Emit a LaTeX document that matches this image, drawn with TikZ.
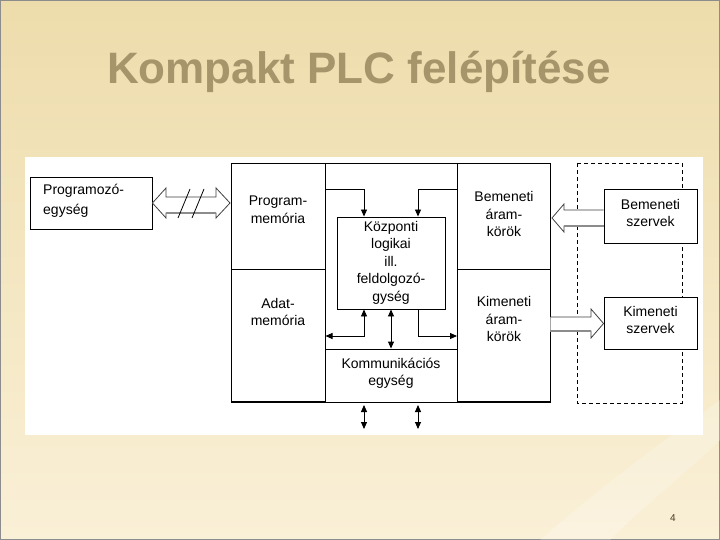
\documentclass[tikz,border=0pt]{standalone}
\usepackage{fontspec}
\setmainfont{Liberation Sans}
\usetikzlibrary{arrows.meta,calc}
\definecolor{bgtop}{HTML}{EDDCAB}
\definecolor{bgbot}{HTML}{FAF0D7}
\definecolor{titlec}{HTML}{A6956B}
\definecolor{pagec}{HTML}{4A3A20}
\definecolor{shadowc}{HTML}{8C8C8C}
\tikzset{
  lbl/.style={font=\fontsize{14}{17.5}\selectfont, align=center, inner sep=0pt},
  conn/.style={line width=0.9pt, -{Triangle[length=7pt,width=6pt]}},
  conn2/.style={line width=0.9pt, {Triangle[length=7pt,width=6pt]}-{Triangle[length=7pt,width=6pt]}},
  hollow/.style={draw=black!75, line width=0.8pt, fill=white, line join=miter},
  shade/.style={draw=shadowc, line width=2.2pt},
  boxn/.style={draw=black, fill=white, line width=0.9pt, inner sep=0pt}
}
\begin{document}
\begin{tikzpicture}[x=1pt,y=-1pt]
\useasboundingbox (0,0) rectangle (720,540);
% background
\fill[bgbot] (0,0) rectangle (720,540);
\shade[top color=bgtop, bottom color=bgbot] (0,0) rectangle (720,540);
\fill[white, opacity=0.22] (540,540) .. controls (620,470) and (680,430) .. (720,400) -- (720,440) .. controls (690,470) and (650,500) .. (610,540) -- cycle;
% title
\node[anchor=base, font=\fontsize{44}{50}\selectfont\bfseries, text=titlec, inner sep=0pt] (title) at (359,84) {Kompakt PLC felépítése};
% white panel
\fill[white] (25,157) rectangle (703,435);
% programozo
\node[boxn, minimum width=122pt, minimum height=52pt] (prog) at (91,203) {};
\node[anchor=north west, font=\fontsize{14}{19.5}\selectfont, align=left, inner sep=0pt] (progt) at (43,184) {Programozó-\\egység};
% programozo double hollow arrow
\path[hollow] (prog.east) -- (166,188) -- (166,197) -- (216,197) -- (216,188) -- (230,203) -- (216,218) -- (216,213) -- (166,213) -- (166,218) -- cycle;
\draw[shade] (166,213) -- (216,213);
\draw[line width=0.8pt] (178,218) -- (190,189);
\draw[line width=0.8pt] (192,218) -- (204,189);
% dashed region
\draw[line width=0.8pt, dash pattern=on 4pt off 3pt] (577,163) rectangle (682,403);
% main PLC box
\node[draw=black, line width=0.9pt, minimum width=319pt, minimum height=239pt, inner sep=0pt] (plc) at (390.5,282.5) {};
\draw[line width=0.9pt] (325,163) -- (325,402);
\draw[line width=0.9pt] (457,163) -- (457,402);
\draw[line width=0.9pt] (231,269) -- (325,269);
\draw[line width=0.9pt] (457,269) -- (550,269);
\draw[line width=1.6pt] (231,402) -- (550,402);
% inner boxes
\node[boxn, minimum width=108pt, minimum height=92pt] (kozp) at (391,263) {};
\node[lbl] (kozpt) at (391,262.5) {Központi\\logikai\\ill.\\feldolgozó-\\gység};
\node[boxn, minimum width=132pt, minimum height=53pt] (komm) at (391,375.5) {};
\node[lbl] (kommt) at (391,373.5) {Kommunikációs\\egység};
\node[lbl] (pm) at (278,210) {Program-\\memória};
\node[lbl] (am) at (278,312) {Adat-\\memória};
\node[lbl] (bak) at (504,214) {Bemeneti\\áram-\\körök};
\node[lbl] (kak) at (504,319) {Kimeneti\\áram-\\körök};
% internal connectors
\coordinate (c1) at (325,189);
\coordinate (c2) at (457,189);
\draw[conn] (c1) -| (kozp.north -| 364,0);
\draw[conn] (c2) -| (kozp.north -| 418,0);
\draw[conn2] (325.5,336) -| (kozp.south -| 364,0);
\draw[conn2] (kozp.south) -- (komm.north);
\draw[conn] (kozp.south -| 418,0) |- (457,336);
\draw[conn2] (364,405) -- (364,429);
\draw[conn2] (418,405) -- (418,429);
% field devices
\node[boxn, minimum width=93pt, minimum height=54pt] (bsz) at (650.5,216) {};
\node[lbl] (bszt) at (650.5,213) {Bemeneti\\szervek};
\node[boxn, minimum width=93pt, minimum height=52pt] (ksz) at (650.5,323) {};
\node[lbl] (kszt) at (650.5,320) {Kimeneti\\szervek};
% hollow arrows
\path[hollow] (bsz.west |- 0,210) -- (564,210) -- (564,204) -- (552,218) -- (564,232) -- (564,226) -- (bsz.west |- 0,226);
\draw[shade] (564,226) -- (bsz.west |- 0,226);
\path[hollow] (plc.east |- 0,317) -- (591,317) -- (591,309) -- (ksz.west |- 0,323.5) -- (591,338) -- (591,331) -- (plc.east |- 0,331);
\draw[shade] (plc.east |- 0,331) -- (591,331);
% page number
\node[font=\fontsize{10}{12}\selectfont, text=pagec, inner sep=0pt] (pg) at (673,518) {4};
\end{tikzpicture}
\end{document}
